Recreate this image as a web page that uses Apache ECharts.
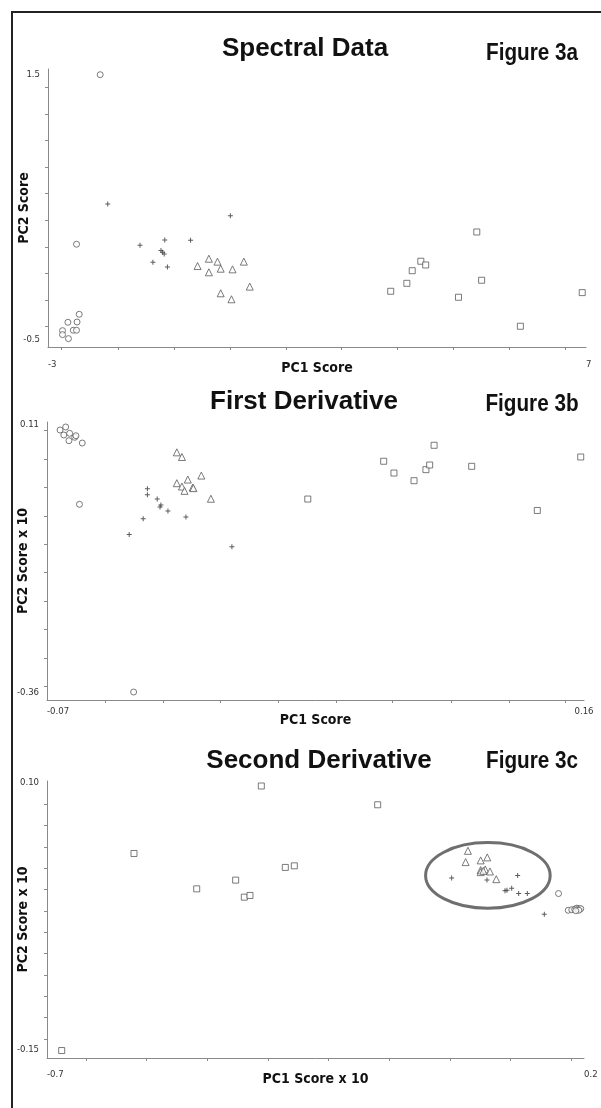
<!DOCTYPE html>
<html>
<head>
<meta charset="utf-8">
<script src="https://cdn.jsdelivr.net/npm/echarts@6/dist/echarts.min.js"></script>
<style>
html,body{margin:0;padding:0;background:#fff;}
#chart{width:601px;height:1108px;}
</style>
</head>
<body>
<div id="chart"></div>
<script>
// ---------- Panel titles ----------
const panelTitles = ['Spectral Data', 'First Derivative', 'Second Derivative'];
const figureLabels = ['Figure 3a', 'Figure 3b', 'Figure 3c'];
const xAxisNames = ['PC1 Score', 'PC1 Score', 'PC1 Score x 10'];
const yAxisNames = ['PC2 Score', 'PC2 Score x 10', 'PC2 Score x 10'];

// ---------- Tick labels (shown at axis ends) ----------
const specXLabels = [-3, 7];
const specXLabelText = ['-3', '7'];
const specYLabels = [-0.5, 1.5];
const specYLabelText = ['-0.5', '1.5'];
const d1XLabels = [-0.07, 0.16];
const d1XLabelText = ['-0.07', '0.16'];
const d1YLabels = [-0.36, 0.11];
const d1YLabelText = ['-0.36', '0.11'];
const d2XLabels = [-0.7, 0.2];
const d2XLabelText = ['-0.7', '0.2'];
const d2YLabels = [-0.15, 0.10];
const d2YLabelText = ['-0.15', '0.10'];

// ---------- Tick marks ----------
const specXTicks = [-2.75, -1.7, -0.66, 0.38, 1.42, 2.45, 3.49, 4.53, 5.57, 6.61];
const specYTicks = [-0.4, -0.2, 0, 0.2, 0.4, 0.6, 0.8, 1.0, 1.2, 1.4];
const d1XTicks = [-0.045, -0.02, 0.004, 0.029, 0.054, 0.078, 0.103, 0.128, 0.152];
const d1YTicks = [-0.35, -0.3, -0.25, -0.2, -0.15, -0.1, -0.05, 0, 0.05, 0.1];
const d2XTicks = [-0.635, -0.533, -0.432, -0.33, -0.228, -0.126, -0.025, 0.077, 0.178];
const d2YTicks = [-0.14, -0.12, -0.1, -0.08, -0.06, -0.04, -0.02, 0, 0.02, 0.04, 0.06, 0.08];

// ---------- Data: Spectral Data ----------
const specCircle = [[-2.03,1.495],[-2.47,0.22],[-2.42,-0.307],[-2.63,-0.367],[-2.46,-0.365],[-2.73,-0.43],[-2.73,-0.46],[-2.53,-0.427],[-2.47,-0.427],[-2.62,-0.49]];
const specPlus = [[-1.89,0.523],[0.39,0.435],[-1.29,0.212],[-0.83,0.252],[-0.35,0.25],[-0.90,0.172],[-0.87,0.16],[-0.84,0.147],[-1.05,0.084],[-0.78,0.049]];
const specTriangle = [[-0.22,0.056],[-0.01,0.111],[-0.01,0.009],[0.15,0.089],[0.21,0.036],[0.43,0.031],[0.64,0.089],[0.21,-0.149],[0.41,-0.194],[0.75,-0.099]];
const specSquare = [[3.37,-0.134],[3.67,-0.074],[3.77,0.021],[3.93,0.092],[4.02,0.064],[4.63,-0.179],[4.97,0.312],[5.06,-0.051],[5.78,-0.397],[6.93,-0.144]];

// ---------- Data: First Derivative ----------
const d1Circle = [[-0.0644,0.1012],[-0.0620,0.1065],[-0.0628,0.0924],[-0.0603,0.0954],[-0.0606,0.0824],[-0.0581,0.0884],[-0.0576,0.0911],[-0.0549,0.0783],[-0.0561,-0.0296],[-0.0329,-0.360]];
const d1Plus = [[-0.0270,-0.0021],[-0.0270,-0.0127],[-0.0228,-0.0203],[-0.0212,-0.0309],[-0.0216,-0.0344],[-0.0182,-0.0415],[-0.0288,-0.0550],[-0.0105,-0.0520],[-0.0348,-0.0829],[0.0092,-0.1043]];
const d1Triangle = [[-0.0144,0.0619],[-0.0122,0.0537],[-0.0039,0.0210],[-0.0097,0.0140],[-0.0144,0.0076],[-0.0122,0.0017],[-0.0111,-0.0059],[-0.0076,0.0000],[-0.0073,-0.0011],[0.0002,-0.0198]];
const d1Square = [[0.0417,-0.0203],[0.0742,0.0462],[0.0786,0.0255],[0.0872,0.0120],[0.0923,0.0314],[0.0939,0.0396],[0.0958,0.0743],[0.1119,0.0373],[0.1400,-0.0404],[0.1586,0.0537]];

// ---------- Data: Second Derivative ----------
const d2Square = [[-0.6754,-0.151],[-0.5542,0.0339],[-0.4491,0.0007],[-0.3838,0.0089],[-0.3693,-0.0071],[-0.3598,-0.0055],[-0.3408,0.0972],[-0.3006,0.0208],[-0.2855,0.0223],[-0.1458,0.0796]];
const d2Triangle = [[0.0055,0.0364],[0.0016,0.0258],[0.0268,0.0274],[0.0379,0.0302],[0.0268,0.0183],[0.0345,0.0189],[0.0424,0.0170],[0.0530,0.0098],[0.0268,0.0164],[0.0312,0.0176]];
const d2Plus = [[-0.0218,0.0110],[0.0374,0.0089],[0.0888,0.0133],[0.0676,-0.0011],[0.0709,-0.0005],[0.0788,0.0013],[0.0905,-0.0037],[0.1050,-0.0037],[0.1335,-0.0231]];
const d2Circle = [[0.1573,-0.0037],[0.1736,-0.0194],[0.1795,-0.0189],[0.1845,-0.0184],[0.1879,-0.0174],[0.1904,-0.0179],[0.1929,-0.0184],[0.1946,-0.0179],[0.1913,-0.0194],[0.1862,-0.0198]];
// highlighted cluster: centre x, centre y, radius x, radius y (data units)
const d2Ellipse = [0.0389, 0.0133, 0.1044, 0.0308];

// ---------- Styling ----------
const narrow = "'DejaVu Sans Condensed','Liberation Sans',sans-serif";
const plusPath = 'path://M4,0L6,0L6,4L10,4L10,6L6,6L6,10L4,10L4,6L0,6L0,4L4,4Z';
const markStroke = '#5a5a5a';

function labelFmt(labels, texts) {
  return function (v) { const i = labels.findIndex(l => Math.abs(l - v) < 1e-9); return i >= 0 ? texts[i] : ''; };
}
function makeX(idx, min, max, labels, texts, ticks, name, labelMargin, nameGap, maxAlign) {
  return {
    type: 'value', gridIndex: idx, min: min, max: max,
    name: name, nameLocation: 'middle', nameGap: nameGap, nameMoveOverlap: false,
    nameTextStyle: { fontFamily: narrow, fontWeight: 'bold', fontSize: 14, color: '#111' },
    splitLine: { show: false },
    axisLine: { show: true, onZero: false, lineStyle: { color: '#8a8a8a', width: 1 } },
    axisTick: { show: true, length: 3, customValues: ticks, lineStyle: { color: '#8a8a8a' } },
    axisLabel: {
      customValues: labels, align: 'left', alignMaxLabel: maxAlign, margin: labelMargin,
      fontFamily: narrow, fontSize: 9.5, color: '#333',
      formatter: labelFmt(labels, texts)
    }
  };
}
function makeY(idx, min, max, labels, texts, ticks, name) {
  return {
    type: 'value', gridIndex: idx, min: min, max: max,
    name: name, nameLocation: 'middle', nameGap: 17, nameMoveOverlap: false,
    nameTextStyle: { fontFamily: narrow, fontWeight: 'bold', fontSize: 14, color: '#111' },
    splitLine: { show: false },
    axisLine: { show: true, onZero: false, lineStyle: { color: '#8a8a8a', width: 1 } },
    axisTick: { show: true, length: 3, customValues: ticks, lineStyle: { color: '#8a8a8a' } },
    axisLabel: {
      customValues: labels, margin: 8,
      fontFamily: narrow, fontSize: 9.5, color: '#333',
      formatter: labelFmt(labels, texts)
    }
  };
}
function scatter(idx, data, kind) {
  const base = { type: 'scatter', xAxisIndex: idx, yAxisIndex: idx, data: data, silent: true, z: 3 };
  if (kind === 'circle') return Object.assign(base, { symbol: 'circle', symbolSize: 6, itemStyle: { color: '#fff', borderColor: markStroke, borderWidth: 1 } });
  if (kind === 'square') return Object.assign(base, { symbol: 'rect', symbolSize: 6, itemStyle: { color: '#fff', borderColor: markStroke, borderWidth: 1 } });
  if (kind === 'triangle') return Object.assign(base, { symbol: 'triangle', symbolSize: 7, itemStyle: { color: '#fff', borderColor: markStroke, borderWidth: 1 } });
  return Object.assign(base, { symbol: plusPath, symbolSize: 5, itemStyle: { color: '#333' } });
}

const titleCenters = [[305, 49], [304, 402], [319, 761]];
const figCenters = [[532, 54], [532, 405], [532, 762]];
const graphics = [
  { type: 'polyline', shape: { points: [[12, 1108], [12, 12], [601, 12]] }, style: { stroke: '#222', lineWidth: 2, fill: null } }
];
panelTitles.forEach((t, i) => {
  graphics.push({ type: 'text', x: titleCenters[i][0], y: titleCenters[i][1],
    style: { text: t, align: 'center', verticalAlign: 'middle', font: "bold 26px 'Liberation Sans', Arial, sans-serif", fill: '#111' } });
  graphics.push({ type: 'text', x: figCenters[i][0], y: figCenters[i][1], scaleX: 0.9,
    style: { text: figureLabels[i], align: 'center', verticalAlign: 'middle', font: "bold 23px 'Liberation Sans', Arial, sans-serif", fill: '#111' } });
});

const chart = echarts.init(document.getElementById('chart'), null, { renderer: 'canvas' });
chart.setOption({
  backgroundColor: '#fff',
  animation: false,
  grid: [
    { left: 48, right: 15, top: 69, height: 278, outerBoundsMode: 'none', containLabel: false },
    { left: 47, right: 17, top: 422, height: 278, outerBoundsMode: 'none', containLabel: false },
    { left: 47, right: 17, top: 781, height: 277, outerBoundsMode: 'none', containLabel: false }
  ],
  xAxis: [
    makeX(0, -3, 7, specXLabels, specXLabelText, specXTicks, xAxisNames[0], 13, 14, 'left'),
    makeX(1, -0.07, 0.16, d1XLabels, d1XLabelText, d1XTicks, xAxisNames[1], 7, 13, 'center'),
    makeX(2, -0.7, 0.2, d2XLabels, d2XLabelText, d2XTicks, xAxisNames[2], 12, 14, 'left')
  ],
  yAxis: [
    makeY(0, -0.553, 1.538, specYLabels, specYLabelText, specYTicks, yAxisNames[0]),
    makeY(1, -0.374, 0.1153, d1YLabels, d1YLabelText, d1YTicks, yAxisNames[1]),
    makeY(2, -0.158, 0.1019, d2YLabels, d2YLabelText, d2YTicks, yAxisNames[2])
  ],
  graphic: graphics,
  series: [
    scatter(0, specCircle, 'circle'), scatter(0, specPlus, 'plus'), scatter(0, specTriangle, 'triangle'), scatter(0, specSquare, 'square'),
    scatter(1, d1Circle, 'circle'), scatter(1, d1Plus, 'plus'), scatter(1, d1Triangle, 'triangle'), scatter(1, d1Square, 'square'),
    scatter(2, d2Circle, 'circle'), scatter(2, d2Plus, 'plus'), scatter(2, d2Triangle, 'triangle'), scatter(2, d2Square, 'square'),
    {
      type: 'custom', xAxisIndex: 2, yAxisIndex: 2, silent: true, z: 2,
      data: [d2Ellipse],
      renderItem: function (params, api) {
        const c = api.coord([api.value(0), api.value(1)]);
        const s = api.size([api.value(2), api.value(3)]);
        return { type: 'ellipse', shape: { cx: c[0], cy: c[1], rx: s[0], ry: s[1] },
          style: { fill: 'none', stroke: '#6f6f6f', lineWidth: 3 } };
      }
    }
  ]
});
</script>
</body>
</html>
